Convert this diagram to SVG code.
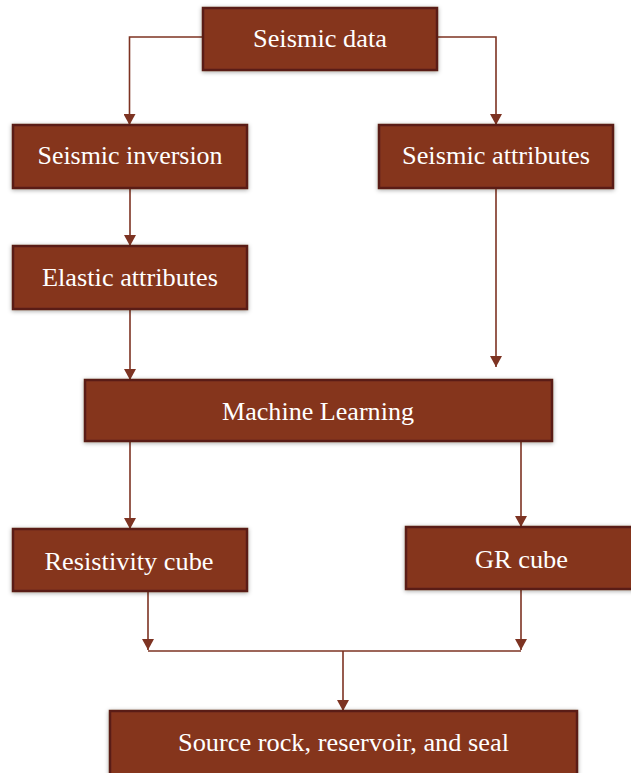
<svg xmlns="http://www.w3.org/2000/svg" width="631" height="773" viewBox="0 0 631 773">
<style>
.box{fill:#85341f;stroke:#5a1d12;stroke-width:2.5;filter:url(#sh)}
.lbl{font-family:"Liberation Serif","Times New Roman",serif;font-size:26px;fill:#ffffff;text-anchor:middle}
.con{fill:none;stroke:#7d3322;stroke-width:1.6}
</style>
<defs>
<filter id="sh" x="-10%" y="-20%" width="120%" height="140%">
<feDropShadow dx="0" dy="1" stdDeviation="2" flood-color="#000" flood-opacity="0.35"/>
</filter>
<marker id="ah" markerUnits="userSpaceOnUse" markerWidth="11" markerHeight="12" refX="11" refY="6" orient="auto">
<path d="M0,0 L11,6 L0,12 z" fill="#7d3322"/>
</marker>
</defs>
<g id="connectors">
<path class="con" d="M203,37 H129.5 V125" marker-end="url(#ah)"/>
<path class="con" d="M437,37 H496 V125" marker-end="url(#ah)"/>
<path class="con" d="M130,188 V246" marker-end="url(#ah)"/>
<path class="con" d="M496,188 V367" marker-end="url(#ah)"/>
<path class="con" d="M130,309 V380" marker-end="url(#ah)"/>
<path class="con" d="M130,441 V529" marker-end="url(#ah)"/>
<path class="con" d="M521,441 V527" marker-end="url(#ah)"/>
<path class="con" d="M148,591 V650" marker-end="url(#ah)"/>
<path class="con" d="M521,589 V650" marker-end="url(#ah)"/>
<path class="con" d="M148,651 H521"/>
<path class="con" d="M343,651 V711" marker-end="url(#ah)"/>
</g>
<g id="seismic-data">
<rect class="box" x="203" y="8" width="234" height="62"/>
<text class="lbl" x="320" y="47" textLength="134" lengthAdjust="spacingAndGlyphs">Seismic  data</text>
</g>
<g id="seismic-inversion">
<rect class="box" x="13" y="125" width="234" height="63"/>
<text class="lbl" x="130" y="164" textLength="185" lengthAdjust="spacingAndGlyphs">Seismic  inversion</text>
</g>
<g id="seismic-attributes">
<rect class="box" x="379" y="125" width="234" height="63"/>
<text class="lbl" x="496" y="164" textLength="188" lengthAdjust="spacingAndGlyphs">Seismic  attributes</text>
</g>
<g id="elastic-attributes">
<rect class="box" x="13" y="246" width="234" height="63"/>
<text class="lbl" x="130" y="286" textLength="176" lengthAdjust="spacingAndGlyphs">Elastic attributes</text>
</g>
<g id="machine-learning">
<rect class="box" x="85" y="380" width="467" height="61"/>
<text class="lbl" x="318" y="420" textLength="192" lengthAdjust="spacingAndGlyphs">Machine Learning</text>
</g>
<g id="resistivity-cube">
<rect class="box" x="13" y="529" width="234" height="62"/>
<text class="lbl" x="129" y="570" textLength="169" lengthAdjust="spacingAndGlyphs">Resistivity  cube</text>
</g>
<g id="gr-cube">
<rect class="box" x="406" y="527" width="232" height="62"/>
<text class="lbl" x="521.5" y="568" textLength="93" lengthAdjust="spacingAndGlyphs">GR cube</text>
</g>
<g id="source-rock">
<rect class="box" x="110" y="711" width="467" height="66"/>
<text class="lbl" x="343.5" y="751" textLength="331" lengthAdjust="spacingAndGlyphs">Source rock, reservoir,  and seal</text>
</g>
</svg>
